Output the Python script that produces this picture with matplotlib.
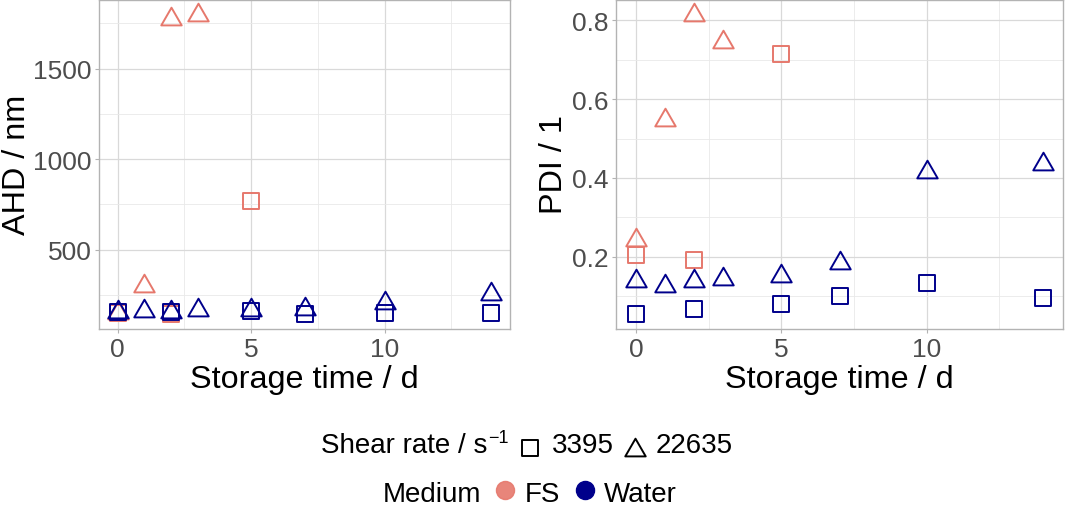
import numpy as np
import matplotlib
matplotlib.use("Agg")
import matplotlib.pyplot as plt
from matplotlib.path import Path
from matplotlib.markers import MarkerStyle
from matplotlib.ticker import MultipleLocator

plt.rcParams['font.family'] = ['Liberation Sans', 'DejaVu Sans']

# storage days per group
days_fs_sq = [0, 2, 5]
days_fs_tri = [0, 1, 2, 3]
days_w_sq = [0, 2, 5, 7, 10, 14]
days_w_tri = [0, 1, 2, 3, 5, 7, 10, 14]

# AHD / nm
ahd_fs_sq = [150, 146, 769]
ahd_fs_tri = [152, 300, 1774, 1797]
ahd_w_sq = [158, 158, 162, 144, 149, 152]
ahd_w_tri = [156, 159, 158, 166, 166, 172, 204, 255]

# PDI / 1
pdi_fs_sq = [0.203, 0.191, 0.716]
pdi_fs_tri = [0.241, 0.546, 0.814, 0.746]
pdi_w_sq = [0.054, 0.068, 0.079, 0.100, 0.134, 0.094]
pdi_w_tri = [0.139, 0.125, 0.138, 0.144, 0.150, 0.183, 0.415, 0.435]

shear_labels = ['3395', '22635']
medium_labels = ['FS', 'Water']

c_fs = '#E6786C'
c_w = '#00008B'
grey_border = '#B3B3B3'

# triangle centred on its centroid like R's pch 2
tri = MarkerStyle(Path([(0, 1), (0.866, -0.5), (-0.866, -0.5), (0, 1)],
                       [Path.MOVETO, Path.LINETO, Path.LINETO, Path.CLOSEPOLY]),
                  joinstyle='round')
sq = MarkerStyle('s', joinstyle='round')
ms_sq, ms_tri, mew = 11, 17, 1.4

W, H = 1065, 506
fig = plt.figure(figsize=(W / 100, H / 100), dpi=100)

def px(x0, x1, ytop, ybot):
    return [x0 / W, 1 - ybot / H, (x1 - x0) / W, (ybot - ytop) / H]

ax1 = fig.add_axes(px(99, 510, 1, 330))
ax2 = fig.add_axes(px(616, 1063, 1, 330))

def draw(ax, fs_sq, fs_tri, w_sq, w_tri):
    ax.plot(days_fs_sq, fs_sq, ls='none', marker=sq, ms=ms_sq, mfc='none', mec=c_fs, mew=mew)
    ax.plot(days_fs_tri, fs_tri, ls='none', marker=tri, ms=ms_tri, mfc='none', mec=c_fs, mew=mew)
    ax.plot(days_w_sq, w_sq, ls='none', marker=sq, ms=ms_sq, mfc='none', mec=c_w, mew=mew)
    ax.plot(days_w_tri, w_tri, ls='none', marker=tri, ms=ms_tri, mfc='none', mec=c_w, mew=mew)
    allx = np.concatenate([days_fs_sq, days_fs_tri, days_w_sq, days_w_tri])
    ally = np.concatenate([fs_sq, fs_tri, w_sq, w_tri])
    dx = allx.max() - allx.min()
    dy = ally.max() - ally.min()
    ax.set_xlim(allx.min() - 0.05 * dx, allx.max() + 0.05 * dx)
    ax.set_ylim(ally.min() - 0.05 * dy, ally.max() + 0.05 * dy)
    ax.xaxis.set_major_locator(MultipleLocator(5))
    ax.xaxis.set_minor_locator(MultipleLocator(2.5))
    ax.grid(which='major', color='#D9D9D9', lw=0.9)
    ax.grid(which='minor', color='#E9E9E9', lw=0.6)
    ax.set_axisbelow(True)
    for s in ax.spines.values():
        s.set_color(grey_border)
        s.set_linewidth(1.0)
    ax.tick_params(which='major', length=2.75, width=0.8, color=grey_border,
                   labelsize=19, labelcolor='#4D4D4D')
    ax.tick_params(axis='x', pad=3.2)
    ax.tick_params(axis='y', pad=2.3)
    ax.tick_params(which='minor', length=0)

draw(ax1, ahd_fs_sq, ahd_fs_tri, ahd_w_sq, ahd_w_tri)
ax1.yaxis.set_major_locator(MultipleLocator(500))
ax1.yaxis.set_minor_locator(MultipleLocator(250))
ax1.set_yticks([500, 1000, 1500])

draw(ax2, pdi_fs_sq, pdi_fs_tri, pdi_w_sq, pdi_w_tri)
ax2.yaxis.set_major_locator(MultipleLocator(0.2))
ax2.yaxis.set_minor_locator(MultipleLocator(0.1))
ax2.set_yticks([0.2, 0.4, 0.6, 0.8])
ax2.set_yticklabels(['0.2', '0.4', '0.6', '0.8'])

# axis titles
tfs = 23.3
fig.text(304.5 / W, 1 - 388.3 / H, 'Storage time / d', ha='center', va='baseline', fontsize=tfs)
fig.text(839.5 / W, 1 - 388.3 / H, 'Storage time / d', ha='center', va='baseline', fontsize=tfs)
fig.text(25 / W, 1 - 165 / H, 'AHD / nm', rotation=90, rotation_mode='anchor',
         ha='center', va='baseline', fontsize=tfs)
fig.text(562 / W, 1 - 165 / H, 'PDI / 1', rotation=90, rotation_mode='anchor',
         ha='center', va='baseline', fontsize=tfs)

# legends, drawn in a pixel-space overlay
leg = fig.add_axes([0, 0, 1, 1])
leg.set_xlim(0, W)
leg.set_ylim(H, 0)
leg.axis('off')
lfs = 20
leg.text(320.7, 453.3, 'Shear rate / s', fontsize=lfs, va='baseline')
leg.text(488, 443, '\u22121', fontsize=13, va='baseline')
leg.plot([530], [448.5], ls='none', marker=sq, ms=ms_sq, mfc='none', mec='black', mew=mew)
leg.text(552, 453.3, shear_labels[0], fontsize=lfs, va='baseline')
leg.plot([635], [450.9], ls='none', marker=tri, ms=ms_tri, mfc='none', mec='black', mew=mew)
leg.text(656, 453.3, shear_labels[1], fontsize=lfs, va='baseline')

leg.text(383, 501.7, 'Medium', fontsize=lfs, va='baseline')
leg.plot([504.5], [490.7], ls='none', marker='o', ms=13, mfc=c_fs, mec=c_fs, alpha=0.9)
leg.text(524.5, 501.7, medium_labels[0], fontsize=lfs, va='baseline')
leg.plot([584.5], [490.7], ls='none', marker='o', ms=13, mfc=c_w, mec=c_w)
leg.text(604, 501.7, medium_labels[1], fontsize=lfs, va='baseline')

fig.savefig('out.png', dpi=100)
